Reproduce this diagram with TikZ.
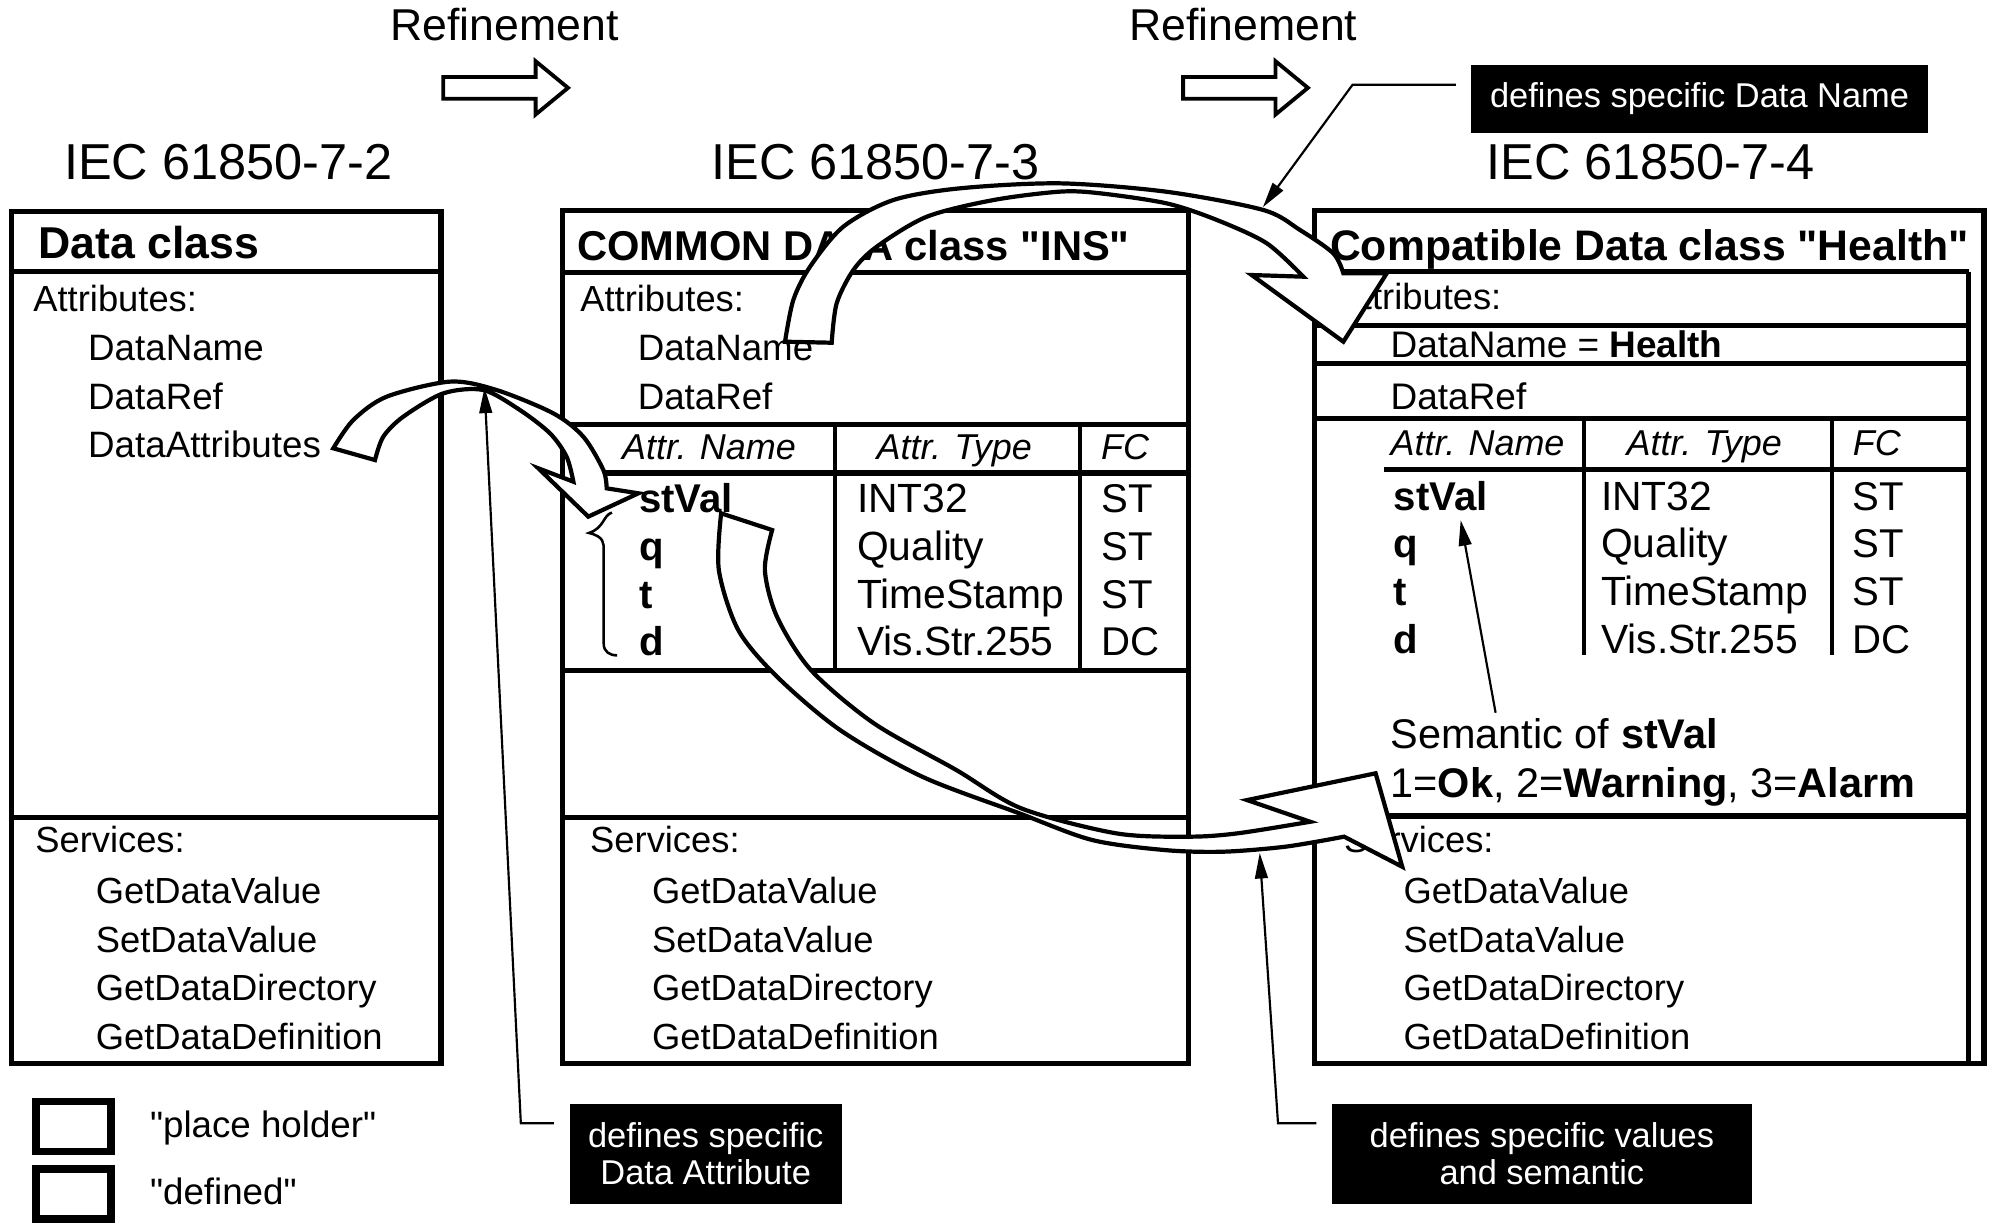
\documentclass[tikz,border=0pt]{standalone}
\usepackage{fontspec}
\setmainfont{Liberation Sans}
\usetikzlibrary{arrows.meta}

\begin{document}
\begin{tikzpicture}[
  x=1pt, y=-1pt,
  box/.style={draw, line width=4.3pt, inner sep=0pt, outer sep=0pt, anchor=north west},
  sepline/.style={line width=4pt},
  colline/.style={line width=3.2pt},
  txt/.style={anchor=base west, inner sep=0pt, font=\fontsize{#1}{#1}\selectfont},
  txt/.default=28.5,
  ttl/.style={anchor=base west, inner sep=0pt, font=\fontsize{#1}{#1}\selectfont\bfseries},
  hdr/.style={anchor=base west, inner sep=0pt, font=\fontsize{28.2}{30}\selectfont\itshape},
  lbl/.style={fill=black, text=white, inner sep=0pt, align=center,
    font=\fontsize{27}{29}\selectfont},
  fat/.style={draw, fill=white, line width=3.3pt, line join=miter, miter limit=20},
  blk/.style={draw, line width=3pt, line join=miter},
  ptr/.style={line width=1.7pt, -{Triangle[length=20pt, width=10pt]}}
]
  \useasboundingbox (0,0) rectangle (1564.7,963.9);

  \node[txt=39.6] (std72) at (50,140.5) {IEC 61850-7-2};
  \node[txt=39.6] (std73) at (557.7,140.5) {IEC 61850-7-3};
  \node[txt=39.6] (std74) at (1165.5,140.5) {IEC 61850-7-4};
  \node[txt=35] (refA) at (306,32) {Refinement};
  \node[txt=35] (refB) at (885.4,32) {Refinement};
  \foreach \x in {347.6,927.9} {
    \draw[blk] (\x,60.4) -- ++(72.5,0) -- ++(0,-12.4) -- ++(25.4,20.9)
      -- ++(-25.4,20.9) -- ++(0,-12.4) -- ++(-72.5,0) -- cycle;
  }

  \node[box, minimum width=337pt, minimum height=668pt] (cls72) at (9,166) {};
  \node[box, minimum width=491pt, minimum height=669pt] (cls73) at (441,165) {};
  \node[box, minimum width=525pt, minimum height=669pt] (cls74) at (1031,165) {};

  \draw[sepline] (9,213) -- (346,213);
  \draw[sepline] (9,641) -- (346,641);

  \draw[sepline] (441,214) -- (932,214);
  \draw[sepline] (441,333) -- (932,333);
  \draw[sepline] (460,371) -- (932,371);
  \draw[sepline] (441,526) -- (932,526);
  \draw[sepline] (441,641) -- (932,641);
  \draw[colline] (655,333) -- (655,526);
  \draw[colline] (847,333) -- (847,526);

  \draw[sepline] (1031,213) -- (1544,213);
  \draw[sepline] (1031,255.5) rectangle (1544,285);
  \draw[sepline] (1031,328) -- (1544,328);
  \draw[sepline] (1085.7,368) -- (1544,368);
  \draw[sepline] (1031,640) -- (1544,640);
  \draw[sepline] (1544,213) -- (1544,834);
  \draw[colline] (1242,328) -- (1242,514);
  \draw[colline] (1437,328) -- (1437,514);

  \node[ttl=35] (ttl72) at (30,203) {Data class};
  \node[ttl=32.7] (ttl73) at (452.7,204) {COMMON DATA class \textquotedbl INS\textquotedbl};
  \node[ttl=33.5] (ttl74) at (1043,204) {Compatible Data class \textquotedbl Health\textquotedbl};

  \node[txt] (att72) at (26,244) {Attributes:};
  \foreach \a [count=\i] in {DataName,DataRef,DataAttributes}
    \node[txt=28.8] (att72-\i) at (69,{245+38*\i}) {\a};
  \node[txt] (att73) at (455,244) {Attributes:};
  \node[txt=28.8] (att73-1) at (500,283) {DataName};
  \node[txt=28.8] (att73-2) at (500,321) {DataRef};
  \node[txt] (att74) at (1049,243) {Attributes:};
  \node[txt=29] (att74-1) at (1090.5,280) {DataName = \textbf{Health}};
  \node[txt=29] (att74-2) at (1090.5,321) {DataRef};

  \node[hdr] (hn73) at (487.7,360) {Attr. Name};
  \node[hdr] (ht73) at (687.3,360) {Attr. Type};
  \node[hdr] (hf73) at (863.4,360) {FC};
  \node[hdr] (hn74) at (1090.5,357) {Attr. Name};
  \node[hdr] (ht74) at (1275.6,357) {Attr. Type};
  \node[hdr] (hf74) at (1453,357) {FC};

  \foreach \bx/\xa/\xb/\xc/\yo in {73/501/672/864/0, 74/1093/1255.6/1453/-2} {
    \foreach \nm/\ty/\fc [count=\i] in {stVal/INT32/ST, q/Quality/ST, t/TimeStamp/ST, d/Vis.Str.255/DC} {
      \node[ttl=31.5] (nm\bx-\i) at (\xa,{365+37.3*\i+\yo}) {\nm};
      \node[txt=32] (ty\bx-\i) at (\xb,{365+37.3*\i+\yo}) {\ty};
      \node[txt=31.5] (fc\bx-\i) at (\xc,{365+37.3*\i+\yo}) {\fc};
    }
  }
  \draw[line width=2pt] (480,402) .. controls (473,404) and (474,414) .. (462,418)
    .. controls (474,421) and (473.5,426) .. (473.5,432) -- (473.5,505)
    .. controls (473.5,511) and (478,514) .. (484,514);

  \node[txt=32.5] (sem1) at (1090.5,587) {Semantic of \textbf{stVal}};
  \node[txt=32.5] (sem2) at (1090.5,625.5) {1=\textbf{Ok}, 2=\textbf{Warning}, 3=\textbf{Alarm}};

  \foreach \bx/\x/\xs in {72/27.5/75, 73/462.7/511.2, 74/1054/1100.6} {
    \node[txt] (srv\bx) at (\x,669) {Services:};
    \foreach \s [count=\i] in {GetDataValue,SetDataValue,GetDataDirectory,GetDataDefinition}
      \node[txt] (srv\bx-\i) at (\xs,{671+38*\i}) {\s};
  }

  \node[box, line width=6pt, minimum width=59pt, minimum height=39pt] (keyPh) at (28,864) {};
  \node[box, line width=6pt, minimum width=59pt, minimum height=39pt] (keyDef) at (28,917) {};
  \node[txt=28.8] (keyPhTxt) at (117.5,892) {\textquotedbl place holder\textquotedbl};
  \node[txt=28.8] (keyDefTxt) at (117.5,945) {\textquotedbl defined\textquotedbl};

  \draw[fat] plot[smooth] coordinates {(261.4,351.6) (277.1,329.4) (303.3,311.1)
      (353,299.3) (389.5,305.9) (434,324.2) (457.5,342.5) (473.2,368.6) (475.8,383)}
    -- (500.7,386.9) -- (461.4,405.2) -- (422.2,367.3) -- (449.7,377.8)
    -- plot[smooth] coordinates {(449.7,377.8) (444.4,358.2) (431.4,339.9) (407.8,321.6)
      (379.1,305.9) (347.7,308.5) (316.3,326.8) (300.6,342.5) (294.1,360.8)}
    -- cycle;

  \draw[fat] plot[smooth] coordinates {(615.7,268) (622.2,235.3) (635.3,209.2)
      (661.4,177.8) (700.6,156.9) (752.9,147.7) (831.4,143.8) (915,150.4)
      (990.8,164.7) (1019.6,180.4) (1045.7,198.7) (1053.6,214.4)}
    -- (1087.6,214.4) -- (1053.6,268) -- (981.7,215.7) -- (1022.2,217)
    -- plot[smooth] coordinates {(1022.2,217) (993.5,190.8) (954.3,172.5) (915,159.5)
      (862.7,151.6) (831.4,150.3) (779.1,156.9) (726.8,170) (687.6,193.5)
      (669.3,211.8) (656.2,237.9) (652.3,268.8)}
    -- cycle;

  \draw[fat] plot[smooth] coordinates {(565.6,402.6) (563.8,447.1) (579,494.1)
      (609.4,530.7) (658.8,572.5) (723.4,609.2) (799.5,637.9) (856.5,658.8)
      (913.5,666.7) (959.1,668) (1008.6,664) (1054.2,656.2)}
    -- (1099.8,679.8) -- (1078.9,606.5) -- (978.1,627.5) -- (1027.6,644.5)
    -- plot[smooth] coordinates {(1027.6,644.5) (970.5,653.6) (932.5,656.2)
      (875.5,653.6) (801,634) (750,603.9) (685.4,567.3) (636,525.5) (609.4,483.7)
      (599.9,447.1) (605.6,415.7)}
    -- cycle;

  \node[lbl, minimum width=358pt, minimum height=53pt] (defName) at (1333,77.5) {defines specific Data Name};
  \node[lbl, minimum width=213.6pt, minimum height=79pt] (defAttr) at (553.5,905) {defines specific\\Data Attribute};
  \node[lbl, minimum width=329.5pt, minimum height=79pt] (defSem) at (1209.3,905) {defines specific values\\and semantic};

  \coordinate (tipAttr) at (380,304);
  \coordinate (tipName) at (990.5,162.5);
  \coordinate (tipSem) at (988,669);
  \coordinate (tipStVal) at (1145.6,408);
  \coordinate (semFoot) at (1173,559);

  \draw[ptr] ([xshift=-12pt,yshift=11pt]defName.west) -- ++(-81,0) -- (tipName);
  \draw[ptr] ([xshift=-12pt,yshift=24pt]defAttr.west) -- ++(-26,0) -- (tipAttr);
  \draw[ptr] ([xshift=-12pt,yshift=24pt]defSem.west) -- ++(-30,0) -- (tipSem);
  \draw[ptr] (semFoot) -- (tipStVal);
\end{tikzpicture}
\end{document}
